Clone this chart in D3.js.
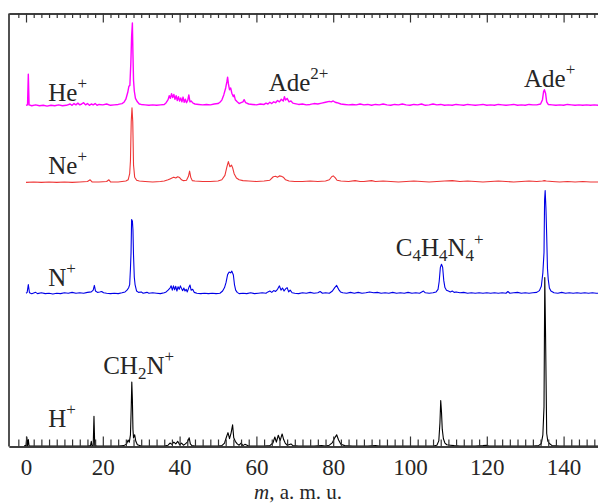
<!DOCTYPE html>
<html><head><meta charset="utf-8">
<script src="https://cdn.jsdelivr.net/npm/d3@7"></script>
<style>
body{margin:0;background:#fff}
svg{display:block}
text{font-family:"Liberation Serif","Times New Roman",serif;fill:#262626}
</style>
</head><body>
<svg id="c" width="598" height="503"></svg>
<script>
// ---- data (m in a.m.u., intensity in arbitrary units above each trace's own baseline) ----
const seriesNames = ["He+", "Ne+", "N+", "H+"];
const seriesOffsets = [78.6, 61.0, 35.1, 0.0];
const seriesColors = ["#ff00ff", "#ee3535", "#0000e6", "#000000"];

const heSpectrum = [[0,0.2],[0.4,0.3],[0.6,7.4],[0.8,0.3],[1.5,0.1],[2.5,0.3],[3.5,0.1],[4.5,0.2],[5.5,0.0],[6.5,0.2],[7.5,0.1],[8.5,0.3],[9.5,0.1],[10.5,0.2],[11.5,0.5],[12,0.2],[12.5,0.6],[13,0.3],[13.5,0.7],[14,0.3],[14.5,0.5],[15,0.8],[15.5,0.3],[16,0.6],[16.5,0.2],[17,0.5],[17.5,0.3],[18,0.6],[18.5,0.2],[19,0.4],[20,0.3],[21,0.5],[22,0.2],[23,0.3],[24,0.4],[25,0.6],[25.5,0.9],[26,1.6],[26.5,3.2],[26.8,4.6],[27.05,4.8],[27.3,10],[27.5,16],[27.7,19.2],[27.85,12],[28,6],[28.2,3.5],[28.5,1.8],[29,1.0],[29.5,0.5],[30,0.4],[31,0.3],[32,0.2],[33,0.3],[34,0.2],[35,0.3],[36,0.4],[36.5,0.8],[37,1.5],[37.3,2.4],[37.6,1.8],[37.9,2.9],[38.2,2.0],[38.5,2.7],[38.8,1.6],[39.1,2.4],[39.4,1.3],[39.7,2.2],[40,1.2],[40.3,1.9],[40.6,1.0],[40.9,2.1],[41.2,0.9],[41.5,1.6],[41.8,0.8],[42.1,1.3],[42.4,2.6],[42.7,1.0],[43,1.2],[43.5,0.7],[44,0.5],[45,0.4],[46,0.3],[47,0.4],[48,0.3],[49,0.5],[50,0.6],[50.5,0.9],[51,1.4],[51.5,2.6],[52,4.2],[52.3,5.6],[52.5,6.7],[52.7,5.2],[53,3.8],[53.3,4.2],[53.6,3.0],[54,2.2],[54.2,2.6],[54.5,1.5],[55,1.0],[55.5,0.6],[56,0.8],[56.5,1.0],[56.8,1.5],[57.2,0.8],[58,0.5],[59,0.4],[60,0.3],[61,0.5],[62,0.4],[62.5,0.7],[63,0.5],[63.5,0.9],[64,0.6],[64.5,1.0],[65,0.8],[65.5,1.3],[66,1.0],[66.5,1.6],[67,1.2],[67.3,2.2],[67.6,1.4],[68,1.8],[68.5,1.0],[69,1.2],[69.5,0.7],[70,0.6],[71,0.4],[72,0.5],[73,0.3],[74,0.4],[75,0.6],[76,0.5],[77,0.7],[78,0.9],[79,1.1],[79.5,1.0],[80,1.2],[80.5,0.9],[81,0.8],[82,0.5],[83,0.4],[84,0.3],[85,0.4],[86,0.3],[87,0.5],[88,0.3],[89,0.4],[90,0.2],[91,0.4],[92,0.3],[93,0.5],[94,0.3],[95,0.2],[96,0.4],[97,0.3],[98,0.5],[99,0.3],[100,0.2],[101,0.4],[102,0.3],[103,0.5],[104,0.2],[105,0.3],[106,0.5],[107,0.3],[108,0.4],[109,0.2],[110,0.3],[111,0.2],[112,0.4],[113,0.3],[114,0.2],[115,0.4],[116,0.3],[117,0.2],[118,0.3],[119,0.4],[120,0.2],[121,0.3],[122,0.2],[123,0.4],[124,0.3],[125,0.2],[126,0.3],[127,0.4],[128,0.2],[129,0.3],[130,0.2],[131,0.4],[132,0.3],[133,0.3],[134,0.5],[134.5,1.5],[134.8,3.4],[135,3.8],[135.3,3.0],[135.6,1.0],[136,0.4],[137,0.3],[138,0.2],[139,0.3],[140,0.2],[141,0.4],[142,0.3],[143,0.2],[144,0.3],[145,0.2],[146,0.3],[147,0.2],[148,0.3],[149,0.2]];

const neSpectrum = [[0,0],[2,0.1],[4,0],[6,0.1],[8,0],[10,0.1],[12,0],[14,0.1],[16,0.2],[16.7,0.6],[17.2,0.1],[19,0.1],[21,0.2],[21.6,0.6],[22,0.1],[24,0.1],[25,0.2],[26,0.3],[26.6,0.6],[27.0,2.0],[27.2,5],[27.4,14],[27.6,17.2],[27.8,14],[28.0,4],[28.3,1.2],[28.8,0.5],[29.5,0.3],[31,0.2],[33,0.1],[35,0.2],[36,0.3],[37,0.6],[37.5,0.8],[38,1.0],[38.5,1.2],[39,1.0],[39.5,1.3],[40,1.1],[40.5,0.6],[41,0.4],[41.8,0.5],[42.3,1.4],[42.6,2.6],[42.9,1.2],[43.3,0.4],[44,0.3],[46,0.2],[48,0.2],[50,0.3],[51,0.6],[51.8,1.6],[52.3,3.5],[52.7,4.8],[53.1,3.6],[53.5,4.0],[53.8,3.4],[54.2,2.0],[54.8,1.0],[55.5,0.6],[56.5,0.4],[58,0.3],[60,0.2],[62,0.3],[63.5,0.5],[64.4,1.3],[65,1.4],[65.5,1.2],[66,1.5],[66.5,1.4],[67,1.2],[67.6,0.6],[68.5,0.3],[70,0.2],[72,0.2],[74,0.3],[76,0.2],[78,0.3],[79,0.6],[79.6,1.3],[80,1.5],[80.5,1.1],[81,0.5],[82,0.3],[84,0.2],[85.7,0.4],[87,0.2],[88,0.2],[90,0.4],[91,0.2],[93,0.3],[95,0.2],[97,0.1],[99,0.2],[101,0.3],[103,0.2],[105,0.1],[107,0.2],[109,0.3],[111,0.4],[113,0.2],[115,0.3],[117,0.2],[119,0.1],[121,0.2],[123,0.3],[125,0.2],[127,0.1],[129,0.2],[131,0.3],[133,0.2],[134.5,0.3],[135,0.4],[135.5,0.3],[137,0.2],[139,0.1],[141,0.2],[143,0.1],[145,0.2],[147,0.1],[149,0.1]];

const nSpectrum = [[0,0.3],[0.3,0.5],[0.6,2.3],[0.9,0.4],[1.5,0.2],[2.5,0.5],[3,0.2],[4,0.4],[5,0.2],[6,0.3],[7,0.1],[8,0.3],[9,0.2],[10,0.4],[11,0.3],[12,0.5],[13,0.3],[14,0.4],[15,0.3],[16,0.5],[17,0.6],[17.5,1.0],[17.8,2.1],[18.1,0.8],[18.6,0.5],[19.2,0.6],[19.7,0.7],[20.2,0.4],[21,0.3],[22,0.2],[23,0.3],[24,0.2],[25,0.4],[25.8,0.6],[26.3,1.0],[26.7,1.5],[27.0,2.3],[27.2,6],[27.35,9.6],[27.5,17.3],[27.7,17],[27.85,15],[28.0,9],[28.2,4],[28.4,2.3],[28.8,0.8],[29.3,0.5],[30,0.6],[30.5,0.3],[31.5,0.5],[32,0.3],[33,0.4],[34,0.3],[35,0.2],[36,0.4],[36.5,0.6],[37,1.0],[37.5,1.5],[37.8,2.0],[38.1,1.0],[38.4,2.0],[38.7,1.1],[39,1.9],[39.3,0.8],[39.6,1.8],[39.9,1.2],[40.2,2.0],[40.5,1.4],[40.8,0.9],[41.1,1.5],[41.4,0.8],[41.7,1.2],[42,0.6],[42.4,1.6],[42.7,2.2],[43,1.0],[43.4,1.2],[43.8,0.5],[44.5,0.3],[45.5,0.2],[46.5,0.3],[47.5,0.2],[48.5,0.3],[49.5,0.2],[50.5,0.3],[51.2,0.8],[51.7,1.6],[52.1,2.8],[52.5,4.6],[52.9,5.2],[53.3,5.0],[53.6,5.4],[54,4.5],[54.3,2.2],[54.6,1.0],[55,0.5],[55.5,0.2],[56.5,0.3],[57.5,0.2],[58.5,0.4],[59.5,0.2],[60.5,0.3],[61.5,0.4],[62.5,0.3],[63,0.6],[63.5,0.8],[64,0.5],[64.5,0.9],[65,0.7],[65.5,1.2],[66,2.0],[66.4,1.0],[66.8,1.5],[67.2,0.8],[67.6,1.3],[68,1.6],[68.4,0.6],[68.8,1.0],[69.3,0.4],[70,0.3],[71,0.2],[72,0.4],[73,0.3],[74,0.5],[75,0.3],[76,0.4],[76.6,0.7],[77.2,0.3],[78,0.4],[79,0.3],[79.8,0.8],[80.4,1.6],[80.9,2.1],[81.4,1.2],[81.9,0.6],[82.5,0.4],[83.5,0.3],[84.5,0.5],[85.5,0.3],[86.5,0.5],[87.5,0.3],[88.5,0.4],[89.5,0.6],[90.5,0.4],[91.5,0.5],[92.5,0.3],[93.5,0.4],[94.5,0.3],[95.5,0.5],[96.5,0.3],[97.5,0.4],[98.5,0.3],[99.5,0.5],[100.5,0.3],[101.5,0.4],[102.5,0.3],[103.5,0.8],[104,0.4],[105,0.3],[106,0.4],[106.8,0.6],[107.3,1.2],[107.6,3],[107.9,6.2],[108.2,7.0],[108.5,6.3],[108.8,3.2],[109.1,1.6],[109.5,1.0],[110,0.8],[110.5,0.6],[111,0.8],[111.5,0.5],[112,0.6],[113,0.4],[114,0.5],[115,0.3],[116,0.4],[117,0.3],[118,0.4],[119,0.3],[120,0.4],[121,0.3],[122,0.4],[123,0.3],[124,0.4],[125,0.3],[125.5,0.7],[126,0.3],[127,0.4],[128,0.5],[129,0.3],[130,0.4],[131,0.3],[132,0.4],[133,0.5],[133.7,0.9],[134.2,1.9],[134.6,5],[134.9,9.7],[135.05,21.9],[135.2,24],[135.4,20],[135.6,13.5],[135.8,6],[136.0,3.5],[136.3,1.5],[136.7,0.8],[137.5,0.4],[138.5,0.3],[139.5,0.5],[140.5,0.3],[141.5,0.4],[142.5,0.3],[143.5,0.4],[144.5,0.3],[145.5,0.4],[146.5,0.3],[147.5,0.4],[148.5,0.3],[149,0.3]];

const hSpectrum = [[-0.5,0.1],[0,0.3],[0.2,2.2],[0.4,0.2],[0.6,1.6],[0.8,0.1],[2,0.1],[4,0.1],[6,0.1],[8,0.1],[10,0.1],[12,0.1],[14,0.1],[16,0.1],[16.8,0.2],[17.0,1.2],[17.2,0.1],[17.5,0.2],[17.7,7.0],[17.9,0.2],[18.5,0.1],[20,0.1],[22,0.1],[24,0.1],[25.5,0.2],[26.2,0.6],[26.6,1.5],[26.9,1.0],[27.2,2.7],[27.4,9],[27.55,14.9],[27.7,11],[27.85,4],[28.0,2.0],[28.3,2.7],[28.6,1.2],[29,0.4],[30,0.1],[32,0.1],[34,0.1],[36,0.1],[37,0.3],[37.5,0.8],[38,0.5],[38.5,1.0],[39,0.6],[39.5,1.2],[40,0.4],[40.5,0.8],[41,0.3],[41.5,0.6],[42,1.0],[42.5,2.0],[42.8,0.6],[43.2,0.2],[44,0.1],[46,0.1],[48,0.1],[50,0.1],[51,0.2],[51.7,0.8],[52.2,2.2],[52.6,3.2],[53.0,1.8],[53.4,3.1],[53.8,5.0],[54.1,2.0],[54.5,1.2],[55,0.6],[55.5,0.3],[56,0.8],[56.5,0.2],[57,0.5],[58,0.1],[60,0.1],[62,0.1],[63.5,0.2],[64.3,0.8],[64.8,2.2],[65.2,1.0],[65.7,2.6],[66.2,1.4],[66.7,2.9],[67.1,1.6],[67.5,0.8],[68,0.3],[69,0.6],[69.5,0.2],[71,0.1],[73,0.1],[75,0.1],[77,0.2],[78,0.1],[79,0.3],[79.8,0.9],[80.4,2.0],[80.9,2.7],[81.4,1.5],[82,0.5],[83,0.2],[85,0.1],[87,0.1],[89,0.1],[91,0.2],[92,0.1],[94,0.1],[96,0.1],[98,0.1],[100,0.1],[102,0.1],[104,0.1],[106,0.1],[107,0.3],[107.5,1.3],[107.8,5.5],[108.0,10.6],[108.2,8],[108.4,4],[108.7,1.8],[109.1,0.8],[109.6,0.4],[110.5,0.3],[111.5,0.2],[113,0.1],[115,0.1],[117,0.1],[119,0.2],[120,0.3],[120.5,0.1],[122,0.1],[124,0.1],[126,0.1],[128,0.1],[130,0.1],[132,0.1],[133.5,0.2],[134.2,0.7],[134.6,2.7],[134.9,9.2],[135.1,39],[135.3,26],[135.6,3],[135.9,1.2],[136.3,0.7],[137,0.2],[139,0.1],[141,0.1],[143,0.1],[145,0.1],[147,0.1],[149,0.1]];

const spectra = [heSpectrum, neSpectrum, nSpectrum, hSpectrum];

const majorTicks = [0, 20, 40, 60, 80, 100, 120, 140];
const minorTicks = d3.range(-2, 149, 2).filter(v => v % 20 !== 0);
const axisTitle = ["m", ", a. m. u."];

// annotations: [m position, intensity level, parts]
const annotations = [
  {m: 5.8,   v: 79.9, parts: [["He"], ["+", "sup"]]},
  {m: 63.2,  v: 82.1, parts: [["Ade"], ["2+", "sup"]]},
  {m: 129.7, v: 83.0, parts: [["Ade"], ["+", "sup"]]},
  {m: 5.8,   v: 62.9, parts: [["Ne"], ["+", "sup"]]},
  {m: 5.8,   v: 37.1, parts: [["N"], ["+", "sup"]]},
  {m: 96.3,  v: 43.9, parts: [["C"], ["4", "sub"], ["H"], ["4", "sub"], ["N"], ["4", "sub"], ["+", "supAfterSub"]]},
  {m: 20.1,  v: 16.7, parts: [["CH"], ["2", "sub"], ["N"], ["+", "sup"]]},
  {m: 5.8,   v: 4.4,  parts: [["H"], ["+", "sup"]]}
];

// ---- drawing ----
const FONT = '"Liberation Serif", "Times New Roman", serif';
const svg = d3.select("#c");
const x = d3.scaleLinear().domain([-4.43, 148.96]).range([9, 598]);
const y = d3.scaleLinear().domain([0, 100]).range([446.5, 13.5]);

const line = d3.line().x(d => x(d[0])).y(d => y(d[1]));

// traces (black first so coloured traces sit on top)
const order = [3, 2, 1, 0];
order.forEach(i => {
  const off = seriesOffsets[i];
  svg.append("path")
    .datum(spectra[i].map(d => [d[0], d[1] + off]))
    .attr("fill", "none")
    .attr("stroke", seriesColors[i])
    .attr("stroke-width", i === 0 ? 1.4 : 1.1)
    .attr("stroke-linejoin", "round")
    .attr("d", line);
});

// axes
const axisColor = "#333";
const gB = svg.append("g").attr("transform", `translate(0,${y(0)})`);
gB.call(d3.axisBottom(x).tickValues(minorTicks).tickSize(-7).tickSizeOuter(0).tickFormat(""));
const gB2 = svg.append("g").attr("transform", `translate(0,${y(0)})`);
gB2.call(d3.axisBottom(x).tickValues(majorTicks).tickSize(-10).tickSizeOuter(0).tickPadding(12));
gB2.attr("font-family", FONT).attr("font-size", 23);
gB2.selectAll("text").attr("font-family", FONT).attr("font-size", 23).attr("fill", "#262626");

const gT = svg.append("g").attr("transform", `translate(0,${y(100)})`);
gT.call(d3.axisTop(x).tickValues(minorTicks).tickSize(-4.5).tickSizeOuter(0).tickFormat(""));
const gT2 = svg.append("g").attr("transform", `translate(0,${y(100)})`);
gT2.call(d3.axisTop(x).tickValues(majorTicks).tickSize(-9).tickSizeOuter(0).tickFormat(""));

svg.selectAll(".domain").attr("stroke", axisColor).attr("stroke-width", 1.7);
svg.selectAll(".tick line").attr("stroke", axisColor).attr("stroke-width", 1.2);

// left frame line
svg.append("line")
  .attr("x1", x.range()[0]).attr("x2", x.range()[0])
  .attr("y1", y(100)).attr("y2", y(0))
  .attr("stroke", axisColor).attr("stroke-width", 1.7);

// annotations
annotations.forEach(a => {
  const t = svg.append("text")
    .attr("x", x(a.m)).attr("y", y(a.v))
    .attr("font-family", FONT)
    .attr("font-size", 25);
  let shift = 0;
  a.parts.forEach(p => {
    const kind = p[1];
    let target = 0, size = 25;
    if (kind === "sup") { target = -12; size = 17; }
    else if (kind === "sub") { target = 5; size = 17; }
    else if (kind === "supAfterSub") { target = -11; size = 17; }
    t.append("tspan")
      .attr("dy", target - shift)
      .attr("font-size", size)
      .text(p[0]);
    shift = target;
  });
});

// axis title
const title = svg.append("text")
  .attr("x", 298).attr("y", 498.5)
  .attr("text-anchor", "middle")
  .attr("font-family", FONT)
  .attr("font-size", 21);
title.append("tspan").attr("font-style", "italic").text(axisTitle[0]);
title.append("tspan").text(axisTitle[1]);
</script>
</body></html>
